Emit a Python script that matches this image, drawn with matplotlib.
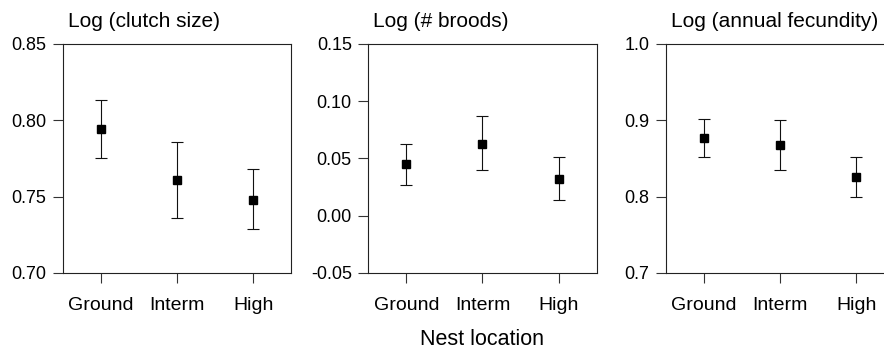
import matplotlib
matplotlib.use('Agg')
import matplotlib.pyplot as plt

plt.rcParams['font.family'] = ['Liberation Sans', 'DejaVu Sans']

# Nest location categories
locations = ['Ground', 'Interm', 'High']

# Panel titles
titles = ['Log (clutch size)', 'Log (# broods)', 'Log (annual fecundity)']

# Means and error bar limits
clutch_mean = [0.794, 0.761, 0.748]
clutch_lo = [0.775, 0.736, 0.729]
clutch_hi = [0.813, 0.786, 0.768]

broods_mean = [0.045, 0.063, 0.032]
broods_lo = [0.027, 0.040, 0.014]
broods_hi = [0.063, 0.087, 0.051]

fecund_mean = [0.877, 0.868, 0.826]
fecund_lo = [0.852, 0.835, 0.800]
fecund_hi = [0.902, 0.901, 0.852]

# y axis ranges and ticks
ylims = [(0.70, 0.85), (-0.05, 0.15), (0.7, 1.0)]
yticks = [[0.70, 0.75, 0.80, 0.85],
          [-0.05, 0.00, 0.05, 0.10, 0.15],
          [0.7, 0.8, 0.9, 1.0]]
ytick_fmt = ['{:.2f}', '{:.2f}', '{:.1f}']

panels = [(clutch_mean, clutch_lo, clutch_hi),
          (broods_mean, broods_lo, broods_hi),
          (fecund_mean, fecund_lo, fecund_hi)]

fig = plt.figure(figsize=(8.84, 3.49), dpi=100)

# axes boxes in figure fractions
lefts = [0.0713, 0.4168, 0.7534]
width = 0.258
bottom = 0.218
height = 0.656

for i, (mean, lo, hi) in enumerate(panels):
    ax = fig.add_axes([lefts[i], bottom, width, height])
    x = list(range(len(locations)))
    err = [[m - l for m, l in zip(mean, lo)], [h - m for m, h in zip(mean, hi)]]
    ax.errorbar(x, mean, yerr=err, fmt='s', color='black', ms=5.5,
                ecolor='#111111', elinewidth=0.8, capsize=4, capthick=0.8)
    ax.set_xlim(-0.5, 2.5)
    ax.set_ylim(*ylims[i])
    ax.set_yticks(yticks[i])
    ax.set_yticklabels([ytick_fmt[i].format(v) for v in yticks[i]])
    ax.set_xticks(x)
    ax.set_xticklabels(locations)
    ax.tick_params(axis='both', direction='out', length=7, width=0.8,
                   color='#333333')
    ax.tick_params(axis='y', labelsize=13, pad=5)
    ax.tick_params(axis='x', labelsize=14, pad=10)
    for s in ax.spines.values():
        s.set_linewidth(0.8)
        s.set_color('#222222')
    ax.text(0.02, 1.075, titles[i], transform=ax.transAxes,
            ha='left', va='baseline', fontsize=15)

fig.text(0.545, 0.012, 'Nest location', ha='center', va='baseline', fontsize=15.5)

fig.savefig('out.png', dpi=100)
